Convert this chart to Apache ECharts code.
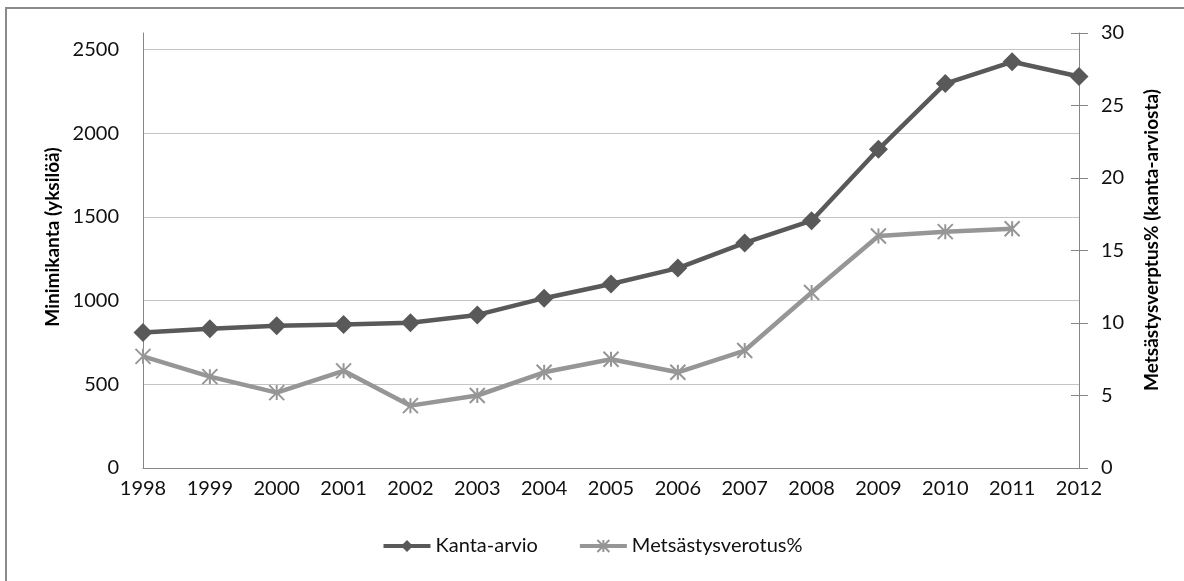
<!DOCTYPE html>
<html>
<head>
<meta charset="utf-8">
<script src="https://cdn.jsdelivr.net/npm/echarts@6/dist/echarts.min.js"></script>
<style>
  html, body { margin: 0; padding: 0; background: #fff; }
  #chart { width: 1184px; height: 581px; }
</style>
</head>
<body>
<div id="chart"></div>
<script>
// Vuodet
const years = ['1998','1999','2000','2001','2002','2003','2004','2005','2006','2007','2008','2009','2010','2011','2012'];
// Kanta-arvio (yksilöä)
const kantaArvio = [810, 832, 850, 858, 868, 915, 1015, 1100, 1195, 1345, 1478, 1905, 2298, 2428, 2340];
// Metsästysverotus (% kanta-arviosta), 2012 puuttuu
const verotus = [7.7, 6.3, 5.2, 6.7, 4.3, 5.0, 6.6, 7.5, 6.6, 8.1, 12.1, 16.0, 16.3, 16.5, null];
// Akselien jaot
const leftTicks = [0, 500, 1000, 1500, 2000, 2500];
const rightTicks = [0, 5, 10, 15, 20, 25, 30];

const FONT = 'Lato, "Open Sans", sans-serif';
const TXT = '#111';
const AXIS = '#868686';

const chart = echarts.init(document.getElementById('chart'), null, { renderer: 'canvas' });

const star = 'path://M0,0L10,10M10,0L0,10M5,0L5,10';

chart.setOption({
  animation: false,
  backgroundColor: '#fff',
  textStyle: { fontFamily: FONT, color: TXT },
  grid: { left: 143, right: 105, top: 33, bottom: 113, containLabel: false },
  xAxis: {
    type: 'category',
    data: years,
    boundaryGap: false,
    axisLine: { show: true, lineStyle: { color: AXIS, width: 1 } },
    axisTick: { show: false },
    axisLabel: { fontSize: 20, color: TXT, margin: 11, fontFamily: FONT, interval: 0 },
    splitLine: { show: false }
  },
  yAxis: [
    {
      type: 'value',
      position: 'left',
      min: 0,
      max: 2600,
      interval: 500,
      axisLine: { show: true, lineStyle: { color: AXIS, width: 1 } },
      axisTick: { show: false, customValues: leftTicks },
      axisLabel: {
        fontSize: 20, color: TXT, margin: 24, fontFamily: FONT,
        customValues: leftTicks,
        formatter: v => String(v)
      },
      splitLine: { show: true, lineStyle: { color: '#c4c4c4', width: 1 } }
    },
    {
      type: 'value',
      position: 'right',
      min: 0,
      max: 30,
      interval: 5,
      axisLine: { show: true, lineStyle: { color: AXIS, width: 1 } },
      axisTick: { show: true, length: 9, customValues: rightTicks, lineStyle: { color: AXIS, width: 1 } },
      axisLabel: { fontSize: 20, color: TXT, margin: 22, fontFamily: FONT, customValues: rightTicks },
      splitLine: { show: false }
    },
    {
      // sisäpuoliset jakoviivat oikealle akselille
      type: 'value',
      position: 'right',
      min: 0,
      max: 30,
      interval: 5,
      axisLine: { show: false },
      axisTick: { show: true, inside: true, length: 8, lineStyle: { color: AXIS, width: 1 } },
      axisLabel: { show: false },
      splitLine: { show: false }
    }
  ],
  legend: {
    bottom: 20,
    left: 'center',
    itemWidth: 47,
    itemHeight: 15,
    itemGap: 40,
    lineStyle: { width: 4 },
    textStyle: { fontSize: 20, color: TXT, fontFamily: FONT, padding: [0, 0, 0, 0] },
    data: ['Kanta-arvio', 'Metsästysverotus%']
  },
  series: [
    {
      name: 'Kanta-arvio',
      type: 'line',
      yAxisIndex: 0,
      data: kantaArvio,
      symbol: 'diamond',
      symbolSize: 19,
      showAllSymbol: true,
      lineStyle: { color: '#595959', width: 4.5 },
      itemStyle: { color: '#595959' },
      z: 3
    },
    {
      name: 'Metsästysverotus%',
      type: 'line',
      yAxisIndex: 1,
      data: verotus,
      symbol: star,
      symbolSize: 15,
      showAllSymbol: true,
      lineStyle: { color: '#969696', width: 4.5 },
      itemStyle: { color: '#969696', borderColor: '#969696', borderWidth: 2 },
      z: 2
    }
  ],
  graphic: [
    {
      type: 'rect',
      shape: { x: 6, y: 8, width: 1200, height: 600 },
      style: { fill: 'none', stroke: '#8a8a8a', lineWidth: 2 },
      silent: true,
      z: -1
    },
    {
      type: 'text',
      x: 53, y: 237,
      rotation: Math.PI / 2,
      style: {
        text: 'Minimikanta (yksilöä)',
        font: 'bold 19px ' + FONT,
        fill: '#000',
        align: 'center',
        verticalAlign: 'middle'
      }
    },
    {
      type: 'text',
      x: 1152, y: 240,
      rotation: Math.PI / 2,
      style: {
        text: 'Metsästysverptus% (kanta-arviosta)',
        font: 'bold 19px ' + FONT,
        fill: '#000',
        align: 'center',
        verticalAlign: 'middle'
      }
    }
  ]
});
</script>
</body>
</html>
